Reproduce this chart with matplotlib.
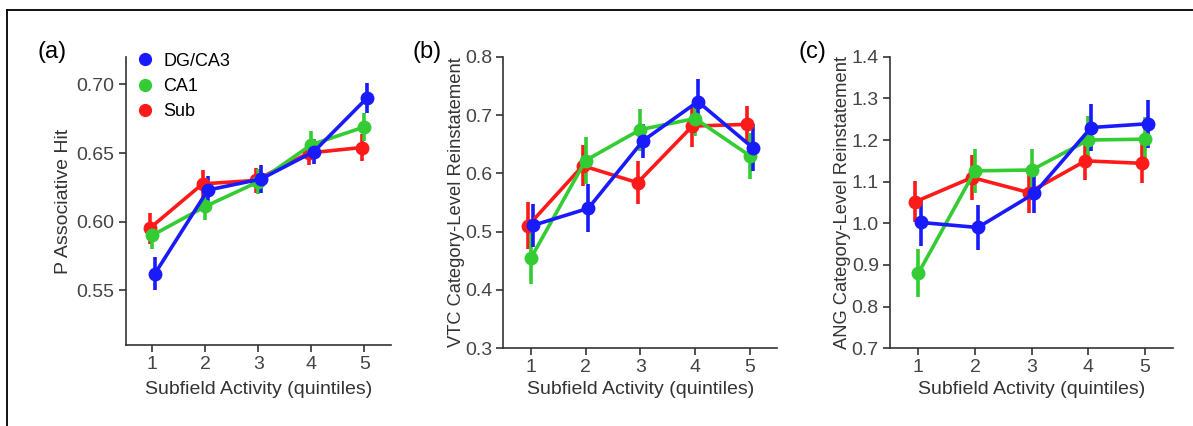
import matplotlib
matplotlib.use("Agg")
import matplotlib.pyplot as plt
from matplotlib.lines import Line2D
import numpy as np

plt.rcParams['font.family'] = ['Liberation Sans', 'DejaVu Sans']

quintiles = [1, 2, 3, 4, 5]
series = ["Sub", "CA1", "DG/CA3"]
colors = {"Sub": "#ff1a1a", "CA1": "#33cc33", "DG/CA3": "#1a1aff"}
offsets = {"Sub": -0.05, "CA1": 0.0, "DG/CA3": 0.05}

# panel (a) P associative hit
hit_mean = {
    "Sub": [0.595, 0.6275, 0.630, 0.650, 0.654],
    "CA1": [0.590, 0.611, 0.629, 0.656, 0.669],
    "DG/CA3": [0.562, 0.623, 0.631, 0.651, 0.690],
}
hit_err = {
    "Sub": [0.011, 0.010, 0.009, 0.009, 0.010],
    "CA1": [0.010, 0.010, 0.009, 0.010, 0.010],
    "DG/CA3": [0.012, 0.010, 0.010, 0.009, 0.011],
}

# panel (b) VTC reinstatement
vtc_mean = {
    "Sub": [0.510, 0.613, 0.584, 0.681, 0.684],
    "CA1": [0.454, 0.622, 0.675, 0.694, 0.630],
    "DG/CA3": [0.511, 0.540, 0.656, 0.723, 0.644],
}
vtc_err = {
    "Sub": [0.040, 0.035, 0.037, 0.035, 0.032],
    "CA1": [0.043, 0.041, 0.036, 0.030, 0.040],
    "DG/CA3": [0.037, 0.041, 0.029, 0.038, 0.040],
}

# panel (c) ANG reinstatement
ang_mean = {
    "Sub": [1.052, 1.110, 1.074, 1.150, 1.144],
    "CA1": [0.880, 1.126, 1.128, 1.200, 1.202],
    "DG/CA3": [1.002, 0.990, 1.072, 1.230, 1.239],
}
ang_err = {
    "Sub": [0.050, 0.053, 0.050, 0.047, 0.046],
    "CA1": [0.058, 0.052, 0.051, 0.058, 0.054],
    "DG/CA3": [0.057, 0.054, 0.048, 0.057, 0.057],
}

W, H = 1193, 426
fig = plt.figure(figsize=(W / 100, H / 100), dpi=100)

# outer frame (top and left only)
fig.add_artist(Line2D([7 / W, 1], [1 - 9.5 / H, 1 - 9.5 / H], color="black", lw=1.3, transform=fig.transFigure))
fig.add_artist(Line2D([7 / W, 7 / W], [0, 1 - 9.5 / H], color="black", lw=1.3, transform=fig.transFigure))

panels = [
    ("(a)", hit_mean, hit_err, [0.1054, 0.1901, 0.2221, 0.6761], (0.51, 0.72),
     [0.55, 0.60, 0.65, 0.70], "{:.2f}", "P Associative Hit", 14, -0.203, -0.125, 52),
    ("(b)", vtc_mean, vtc_err, [0.4219, 0.1824, 0.2297, 0.6845], (0.3, 0.8),
     [0.3, 0.4, 0.5, 0.6, 0.7, 0.8], "{:.1f}", "VTC Category-Level Reinstatement", 13.2, -0.140, -0.112, 427),
    ("(c)", ang_mean, ang_err, [0.7460, 0.1824, 0.2375, 0.6845], (0.7, 1.4),
     [0.7, 0.8, 0.9, 1.0, 1.1, 1.2, 1.3, 1.4], "{:.1f}", "ANG Category-Level Reinstatement", 13.2, -0.138, -0.112, 812),
]

x = np.array(quintiles, dtype=float)
for tag, means, errs, rect, ylim, yticks, fmt, ylabel, ylab_fs, ylab_x, xlab_y, tag_x in panels:
    ax = fig.add_axes(rect)
    for s in series:
        ax.errorbar(x + offsets[s], means[s], yerr=errs[s], fmt="-o", color=colors[s],
                    lw=2.6, elinewidth=2.6, ms=9, capsize=0, label=s)
    ax.set_xlim(0.5, 5.5)
    ax.set_ylim(*ylim)
    ax.set_xticks(quintiles)
    ax.set_yticks(yticks)
    ax.set_yticklabels([fmt.format(v) for v in yticks])
    for side in ["top", "right"]:
        ax.spines[side].set_visible(False)
    for side in ["left", "bottom"]:
        ax.spines[side].set_color("#333333")
        ax.spines[side].set_linewidth(1.2)
    ax.tick_params(direction="out", length=5, width=1.2, color="#333333",
                   labelsize=14, labelcolor="#444444", pad=3)
    ax.set_xlabel("Subfield Activity (quintiles)", fontsize=14, color="#333333")
    ax.xaxis.set_label_coords(0.5, xlab_y)
    ax.set_ylabel(ylabel, fontsize=ylab_fs, color="#333333")
    ax.yaxis.set_label_coords(ylab_x, 0.5)
    fig.text(tag_x / W, 1 - 52 / H, tag, fontsize=17, ha="center", va="center")

    if tag == "(a)":
        handles = [Line2D([], [], ls="", marker="o", ms=8.5, color=colors[s]) for s in ["DG/CA3", "CA1", "Sub"]]
        ax.legend(handles, ["DG/CA3", "CA1", "Sub"], loc="upper left", bbox_to_anchor=(0.02, 1.04),
                  frameon=False, fontsize=13, handlelength=0.8, handletextpad=0.6, labelspacing=0.45,
                  borderaxespad=0)

fig.savefig("out.png", dpi=100)
